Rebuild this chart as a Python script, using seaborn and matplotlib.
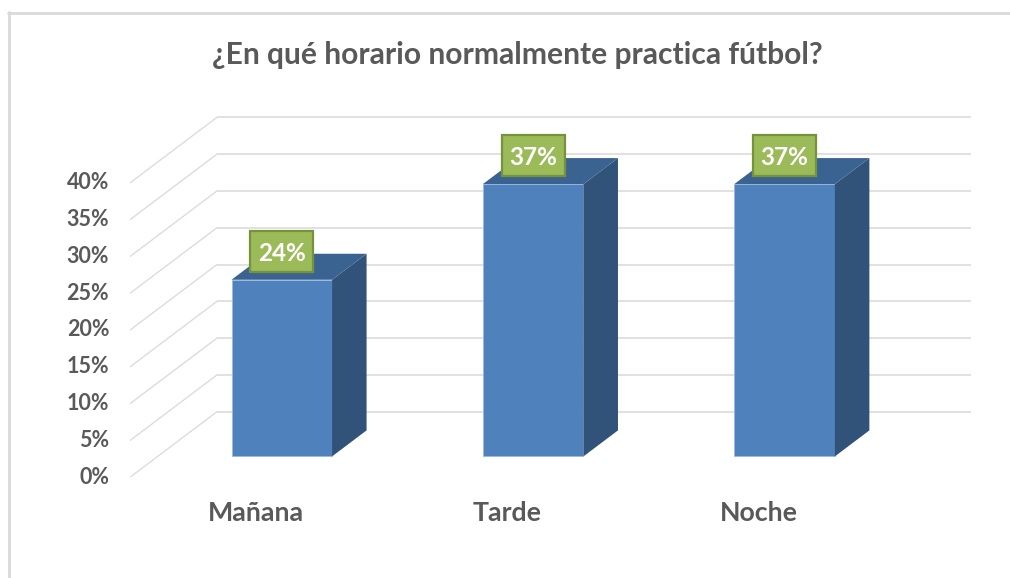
import matplotlib
matplotlib.use("Agg")
import matplotlib.pyplot as plt
from matplotlib.lines import Line2D
from matplotlib.patches import Rectangle
import numpy as np
import pandas as pd
import seaborn as sns

categories = ["Mañana", "Tarde", "Noche"]
percentages = [24, 37, 37]
grid_ticks = [0, 5, 10, 15, 20, 25, 30, 35, 40]
tick_labels = ["0%", "5%", "10%", "15%", "20%", "25%", "30%", "35%", "40%"]
title = "¿En qué horario normalmente practica fútbol?"

W, H = 1010, 578
PX_CAT, PX_PCT = 251.4, 7.36   # pixels per category / per percent
X0, Y0 = 281.8, 456.4          # pixel of first bar centre and of bar base

sns.set_theme(style="white")
plt.rcParams["font.family"] = ["Lato", "DejaVu Sans"]
TEXT = "#595959"

fig = plt.figure(figsize=(W / 100, H / 100), dpi=100, facecolor="white")
left, right, top, bottom = 130, 971, 100, 477.3
ax = fig.add_axes([left / W, 1 - bottom / H, (right - left) / W, (bottom - top) / H])

df = pd.DataFrame({"horario": categories, "pct": percentages})
sns.barplot(data=df, x="horario", y="pct", color="#4f81bd", saturation=1, width=0.4,
            edgecolor="#9db9dc", linewidth=0.6, ax=ax)
ax.set_xlim((left - X0) / PX_CAT, (right - X0) / PX_CAT)
ax.set_ylim((Y0 - bottom) / PX_PCT, (Y0 - top) / PX_PCT)

# fake 3d: depth of the bars and of the floor, in data units
bar_dx, bar_dy = 34.5 / PX_CAT, 26 / PX_PCT
back_y = (Y0 - 411.7) / PX_PCT
front_y = (Y0 - 477.3) / PX_PCT
back_x = (217 - X0) / PX_CAT
front_x = (130 - X0) / PX_CAT

for v in grid_ticks:
    ax.plot([back_x, (right - X0) / PX_CAT], [back_y + v, back_y + v],
            color="#dcdcdc", lw=1.2, zorder=0.5, solid_capstyle="butt")
    ax.plot([front_x, back_x], [front_y + v, back_y + v],
            color="#dcdcdc", lw=1.0, zorder=0.5)

half = 0.2
for i, v in enumerate(percentages):
    ax.fill([i + half, i + half + bar_dx, i + half + bar_dx, i + half],
            [0, bar_dy, v + bar_dy, v], color="#315379", lw=0, zorder=1.2)
    ax.fill([i - half, i - half + bar_dx, i + half + bar_dx, i + half],
            [v, v + bar_dy, v + bar_dy, v], color="#3a6391", lw=0, zorder=1.2)
    # data label box
    box_w, box_h = 63 / PX_CAT, 41 / PX_PCT
    cy = v + 28.2 / PX_PCT
    ax.add_patch(Rectangle((i - box_w / 2, cy - box_h / 2), box_w, box_h, facecolor="#9bbb59",
                           edgecolor="#76923c", lw=1.6, zorder=3))
    ax.text(i, cy, f"{v}%", color="white", fontsize=17.5, fontweight="bold",
            ha="center", va="center_baseline", zorder=4)

ax.set_xticks(np.arange(len(categories)) - 26 / PX_CAT, labels=categories)
ax.set_yticks(np.array(grid_ticks) + (Y0 - 475) / PX_PCT, labels=tick_labels)
ax.tick_params(axis="x", length=0, pad=17, labelsize=19.3, labelcolor=TEXT)
ax.tick_params(axis="y", length=0, pad=15, labelsize=15.5, labelcolor=TEXT)
for lab in ax.get_xticklabels() + ax.get_yticklabels():
    lab.set_fontweight("bold")
ax.set_xlabel("")
ax.set_ylabel("")
sns.despine(ax=ax, left=True, bottom=True)
ax.patch.set_alpha(0)

fig.text(517 / W, 1 - 55 / H, title, color=TEXT, fontsize=21.6, fontweight="bold",
         ha="center", va="center")

# chart frame, top and left only
fig.add_artist(Line2D([9 / W, 9 / W], [0, 1 - 12 / H], color="#d9d9d9", lw=2))
fig.add_artist(Line2D([8 / W, 1], [1 - 13 / H, 1 - 13 / H], color="#d9d9d9", lw=2))

fig.savefig("out.png", dpi=100)
plt.close(fig)
